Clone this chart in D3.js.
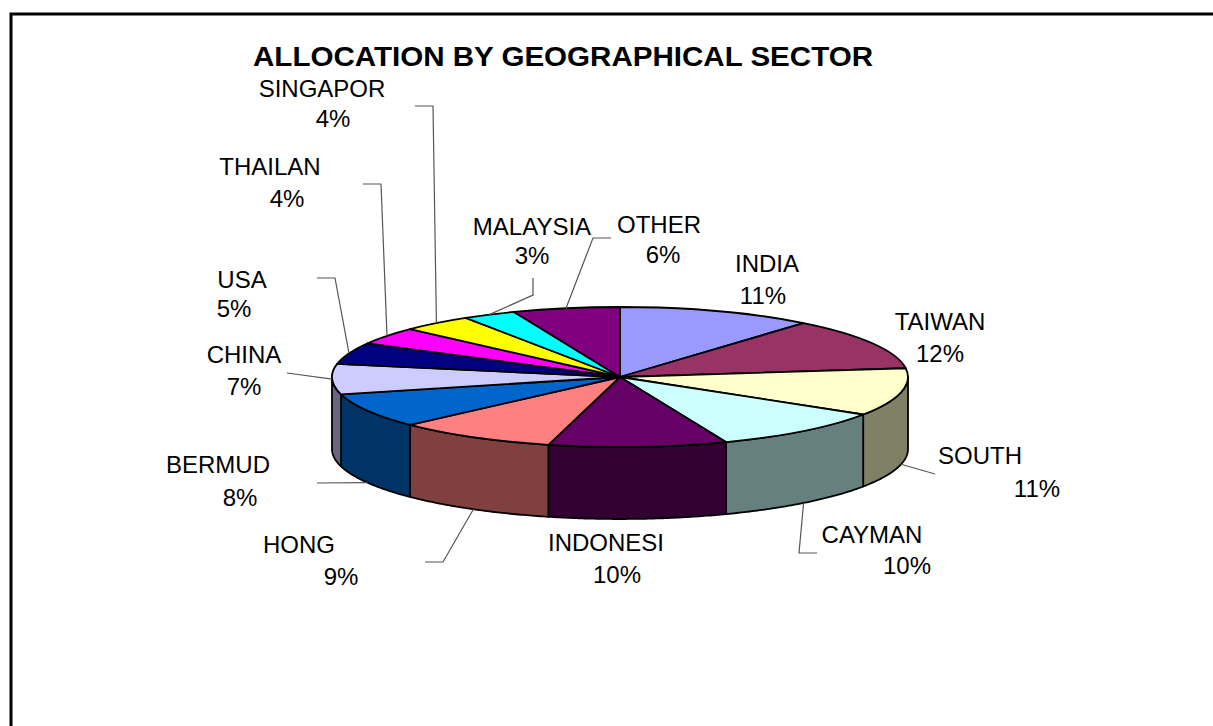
<!DOCTYPE html>
<html>
<head>
<meta charset="utf-8">
<script src="https://cdn.jsdelivr.net/npm/d3@7"></script>
<style>
  html, body { margin: 0; padding: 0; background: #fff; }
  svg { display: block; font-family: "Liberation Sans", Arial, sans-serif; }
</style>
</head>
<body>
<svg id="chart" width="1213" height="726"></svg>
<script>
// data (clockwise from 12 o'clock)
const categories = ['INDIA', 'TAIWAN', 'SOUTH', 'CAYMAN', 'INDONESI', 'HONG', 'BERMUD',
  'CHINA', 'USA', 'THAILAN', 'SINGAPOR', 'MALAYSIA', 'OTHER']
const shares = [11, 12, 11, 10, 10, 9, 8, 7, 5, 4, 4, 3, 6]
const topColors = ['#9999FF', '#993366', '#FFFFCC', '#CCFFFF', '#660066', '#FF8080', '#0066CC',
  '#CCCCFF', '#000080', '#FF00FF', '#FFFF00', '#00FFFF', '#800080']

// label layout: [name x, name baseline, pct x, pct baseline]
const labelPos = [
  [767, 272, 763, 304],
  [940, 330, 940, 362],
  [980, 464, 1037, 497],
  [872, 543, 907, 574],
  [606, 551, 617, 583],
  [299, 553, 341, 585],
  [218, 473, 240, 506],
  [244, 363, 244, 395],
  [242, 288, 234, 317],
  [270, 175, 287, 207],
  [322, 97, 333, 127],
  [532, 235, 532, 264],
  [659, 233, 663, 263]
]
// leader line elbows (from label side), null = no leader
const leaderElbows = [
  null,
  null,
  [[935, 474]],
  [[817, 553], [799, 553]],
  null,
  [[425, 562], [443, 562]],
  [[317, 483]],
  [[287, 373]],
  [[317, 278], [335, 278]],
  [[363, 184], [381, 184]],
  [[415, 106], [433, 106]],
  [[533, 278], [533, 295]],
  [[611, 238], [593, 238]]
]

const cx = 620
const cy = 377
const rx = 288
const ry = 70
const depth = 72

const svg = d3.select('#chart')

// frame (only top and left edges show in the crop)
svg.append('path')
  .attr('d', 'M11,760 V14 H1240')
  .attr('fill', 'none')
  .attr('stroke', '#000')
  .attr('stroke-width', 3)

svg.append('text')
  .text('ALLOCATION BY GEOGRAPHICAL SECTOR')
  .attr('x', 563)
  .attr('y', 66)
  .attr('text-anchor', 'middle')
  .attr('font-weight', 'bold')
  .attr('font-size', 27)
  .attr('textLength', 620)
  .attr('lengthAdjust', 'spacingAndGlyphs')

const pie = d3.pie().sort(null).value(d => d)
const arcs = pie(shares)

const rim = (a, dy = 0) => [cx + rx * Math.sin(a), cy - ry * Math.cos(a) + dy]
const line = d3.line()

function sideColor (c) {
  const rgb = d3.rgb(c)
  return d3.rgb(rgb.r / 2, rgb.g / 2, rgb.b / 2).formatHex()
}

// outer walls of the front half
const walls = svg.append('g')
arcs.forEach((d, i) => {
  const a0 = Math.max(d.startAngle, Math.PI / 2)
  const a1 = Math.min(d.endAngle, 3 * Math.PI / 2)
  if (a1 <= a0) return
  const n = Math.max(2, Math.ceil((a1 - a0) / 0.01))
  const ts = d3.range(n + 1).map(k => a0 + (a1 - a0) * k / n)
  const pts = ts.map(t => rim(t)).concat(ts.slice().reverse().map(t => rim(t, depth)))
  walls.append('path')
    .attr('d', line(pts) + 'Z')
    .attr('fill', sideColor(topColors[i]))
    .attr('stroke', '#000')
    .attr('stroke-width', 1.8)
    .attr('stroke-linejoin', 'round')
})

// top faces: circular arcs squashed into the ellipse
const arcGen = d3.arc().innerRadius(0).outerRadius(rx)
svg.append('g')
  .attr('transform', 'translate(' + cx + ',' + cy + ') scale(1,' + (ry / rx) + ')')
  .selectAll('path')
  .data(arcs)
  .join('path')
  .attr('d', arcGen)
  .attr('fill', (d, i) => topColors[i])
  .attr('stroke', '#000')
  .attr('stroke-width', 1.8)
  .attr('stroke-linejoin', 'round')
  .attr('vector-effect', 'non-scaling-stroke')

// leader lines
const leaders = svg.append('g')
arcs.forEach((d, i) => {
  const elbows = leaderElbows[i]
  if (!elbows) return
  const mid = (d.startAngle + d.endAngle) / 2
  const front = Math.cos(mid) < -0.15
  const anchor = rim(mid, front ? depth : 0)
  leaders.append('path')
    .attr('d', line(elbows.concat([anchor])))
    .attr('fill', 'none')
    .attr('stroke', '#555')
    .attr('stroke-width', 1.2)
})

// labels
const labels = svg.append('g')
  .attr('font-size', 24)
  .attr('fill', '#000')
  .attr('text-anchor', 'middle')
arcs.forEach((d, i) => {
  const p = labelPos[i]
  labels.append('text').text(categories[i]).attr('x', p[0]).attr('y', p[1])
  labels.append('text').text(shares[i] + '%').attr('x', p[2]).attr('y', p[3])
})
</script>
</body>
</html>
